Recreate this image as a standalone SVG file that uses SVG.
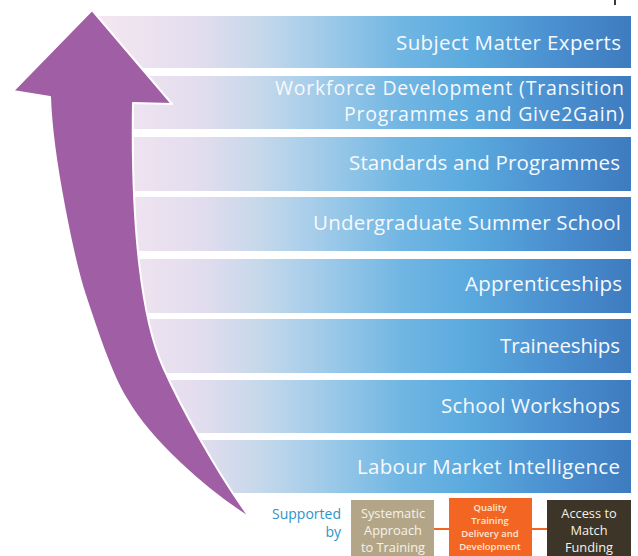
<svg xmlns="http://www.w3.org/2000/svg" width="638" height="556" viewBox="0 0 638 556">
  <defs>
    <linearGradient id="bandFill" gradientUnits="userSpaceOnUse" x1="100" y1="0" x2="631" y2="0">
      <stop offset="0" stop-color="#f5e6f1"/>
      <stop offset="0.19" stop-color="#e2ddee"/>
      <stop offset="0.30" stop-color="#c6d8eb"/>
      <stop offset="0.38" stop-color="#add0ea"/>
      <stop offset="0.57" stop-color="#70b6e3"/>
      <stop offset="0.70" stop-color="#5aa9de"/>
      <stop offset="0.86" stop-color="#4a8fcf"/>
      <stop offset="1" stop-color="#3e7bbf"/>
    </linearGradient>
    <clipPath id="bandClip">
      <path d="M 92,0 L 92,10 L 172,104 L 133,103 C 131,230 142,320 163,367 C 180,405 215,470 250,518 L 250,556 L 640,556 L 640,0 Z"/>
    </clipPath>
  </defs>
  <style>
    .band { fill: url(#bandFill); }
    .label { font-family: "Open Sans", "Noto Sans", "Liberation Sans", sans-serif; font-size: 20.5px; fill: #f6f9fd; text-anchor: end; }
    .label.two { font-size: 19.5px; }
    .sup { font-family: "Open Sans", "Noto Sans", "Liberation Sans", sans-serif; font-size: 14px; fill: #2e94ca; text-anchor: end; }
    .boxtxt { font-family: "Open Sans", "Noto Sans", "Liberation Sans", sans-serif; font-size: 12.8px; text-anchor: middle; }
    .small { font-family: "Open Sans", "Noto Sans", "Liberation Sans", sans-serif; font-size: 9.5px; font-weight: 600; text-anchor: middle; fill: #fde6d6; }
    .link { stroke: #f26522; stroke-width: 2; fill: none; }
  </style>

  <!-- clipped edge of a heading above the frame -->
  <rect x="614" y="0" width="2" height="5" fill="#3a3a3a"/>

  <!-- level bands -->
  <g clip-path="url(#bandClip)">
    <g id="band-sme">
      <rect class="band" x="80" y="16" width="551" height="52"/>
      <text class="label" x="621" y="50" textLength="225">Subject Matter Experts</text>
    </g>
    <g id="band-workforce">
      <rect class="band" x="80" y="76" width="551" height="53"/>
      <text class="label two" x="624" y="95" textLength="349">Workforce Development (Transition</text>
      <text class="label two" x="624" y="121" textLength="280">Programmes and Give2Gain)</text>
    </g>
    <g id="band-standards">
      <rect class="band" x="80" y="137" width="551" height="54"/>
      <text class="label" x="620" y="170" textLength="271">Standards and Programmes</text>
    </g>
    <g id="band-summer">
      <rect class="band" x="80" y="197" width="551" height="54"/>
      <text class="label" x="621" y="230" textLength="308">Undergraduate Summer School</text>
    </g>
    <g id="band-apprenticeships">
      <rect class="band" x="80" y="259" width="551" height="54"/>
      <text class="label" x="622" y="291" textLength="157">Apprenticeships</text>
    </g>
    <g id="band-traineeships">
      <rect class="band" x="80" y="319" width="551" height="54"/>
      <text class="label" x="620" y="353" textLength="120">Traineeships</text>
    </g>
    <g id="band-workshops">
      <rect class="band" x="80" y="380" width="551" height="53"/>
      <text class="label" x="620" y="413" textLength="179">School Workshops</text>
    </g>
    <g id="band-lmi">
      <rect class="band" x="80" y="440" width="551" height="53"/>
      <text class="label" x="620" y="474" textLength="263">Labour Market Intelligence</text>
    </g>
  </g>

  <!-- rising arrow -->
  <g id="arrow">
    <path d="M 92,10 L 172,104 L 133,103 C 131,230 142,320 163,367 C 180,405 215,470 250,518 C 205,490 150,440 127,400 C 112,378 95,325 85,295 C 75,265 52,160 50,97 L 13,91 Z" fill="#a05fa5" stroke="#ffffff" stroke-width="2" stroke-linejoin="round"/>
  </g>

  <!-- supporting elements -->
  <g id="supported-by">
    <text class="sup" x="341" y="519">Supported</text>
    <text class="sup" x="341" y="537">by</text>
  </g>

  <g id="connectors">
    <line class="link" x1="434" y1="529" x2="449" y2="529"/>
    <line class="link" x1="532" y1="529" x2="547" y2="529"/>
  </g>

  <g id="box-systematic">
    <rect x="351" y="500" width="83" height="56" fill="#b3a688"/>
    <text class="boxtxt" x="393" y="518" fill="#f7f2e8">Systematic</text>
    <text class="boxtxt" x="393" y="535" fill="#f7f2e8">Approach</text>
    <text class="boxtxt" x="393" y="552" fill="#f7f2e8">to Training</text>
  </g>

  <g id="box-quality">
    <rect x="449" y="498" width="83" height="58" fill="#f26522"/>
    <text class="small" x="490" y="511">Quality</text>
    <text class="small" x="490" y="524">Training</text>
    <text class="small" x="490" y="537">Delivery and</text>
    <text class="small" x="490" y="550">Development</text>
  </g>

  <g id="box-funding">
    <rect x="547" y="500" width="84" height="56" fill="#3d3528"/>
    <text class="boxtxt" x="589" y="518" fill="#f4f1ea">Access to</text>
    <text class="boxtxt" x="589" y="535" fill="#f4f1ea">Match</text>
    <text class="boxtxt" x="589" y="552" fill="#f4f1ea">Funding</text>
  </g>
</svg>
